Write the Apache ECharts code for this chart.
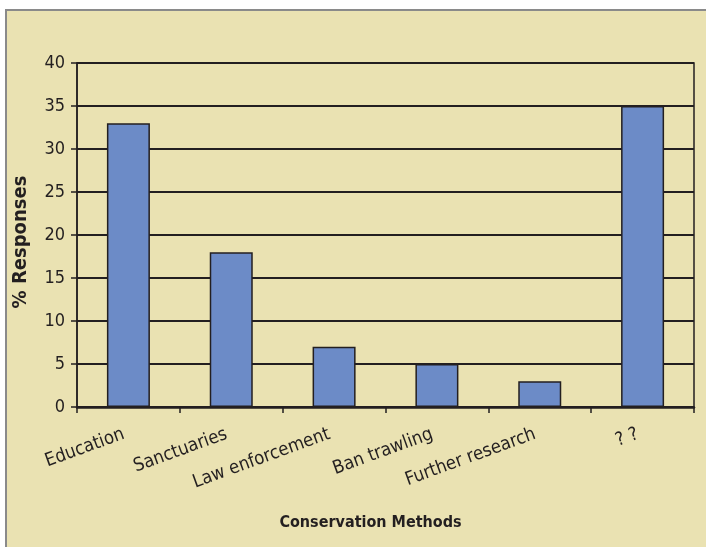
<!DOCTYPE html>
<html>
<head>
<meta charset="utf-8">
<script src="https://cdn.jsdelivr.net/npm/echarts@6/dist/echarts.min.js"></script>
<style>
  html, body { margin: 0; padding: 0; background: #ffffff; }
  #frame { position: absolute; left: 5px; top: 9px; width: 720px; height: 560px;
           border-left: 2px solid #8a8a8a; border-top: 2px solid #8a8a8a; background: #EAE2B2; }
  #chart { position: absolute; left: -7px; top: -11px; width: 706px; height: 547px; }
</style>
</head>
<body>
<div id="frame"><div id="chart"></div></div>
<script>
// Survey: preferred conservation methods
const categories = ['Education', 'Sanctuaries', 'Law enforcement', 'Ban trawling', 'Further research', '? ?'];
const responses = [33, 18, 7, 5, 3, 35];
const yTicks = { min: 0, max: 40, interval: 5 };

const FONT = '"DejaVu Sans Condensed", "Liberation Sans Narrow", "Open Sans", sans-serif';
const INK = '#231f20';

const chart = echarts.init(document.getElementById('chart'), null, { renderer: 'canvas' });
chart.setOption({
  backgroundColor: 'transparent',
  animation: false,
  grid: { left: 77, right: 12, top: 63, bottom: 140, show: true, borderColor: INK, borderWidth: 1.5, backgroundColor: 'transparent' },
  xAxis: {
    type: 'category',
    data: categories,
    name: 'Conservation Methods',
    nameLocation: 'middle',
    nameGap: 108,
    nameTextStyle: { fontFamily: FONT, fontSize: 16, fontWeight: 'bold', color: INK, padding: [0, 30, 0, 0] },
    axisLine: { lineStyle: { color: INK, width: 2.5 } },
    axisTick: { show: true, length: 6, lineStyle: { color: INK, width: 1.5 } },
    axisLabel: { rotate: 20, margin: 25, fontFamily: FONT, fontSize: 18.5, color: INK, interval: 0, padding: [0, 5, 0, 0] }
  },
  yAxis: {
    type: 'value',
    min: yTicks.min, max: yTicks.max, interval: yTicks.interval,
    name: '% Responses',
    nameLocation: 'middle',
    nameGap: 46,
    nameTextStyle: { fontFamily: FONT, fontSize: 20, fontWeight: 'bold', color: INK, padding: [0, 14, 0, 0] },
    axisLine: { show: true, lineStyle: { color: INK, width: 1.5 } },
    axisTick: { show: true, length: 6, lineStyle: { color: INK, width: 1.5 } },
    axisLabel: { margin: 12, fontFamily: FONT, fontSize: 18, color: INK },
    splitLine: { show: true, lineStyle: { color: INK, width: 1.8 } }
  },
  series: [{
    type: 'bar',
    data: responses,
    barWidth: 43,
    itemStyle: { color: '#6C8BC7', borderColor: INK, borderWidth: 1.5 }
  }]
});
</script>
</body>
</html>
